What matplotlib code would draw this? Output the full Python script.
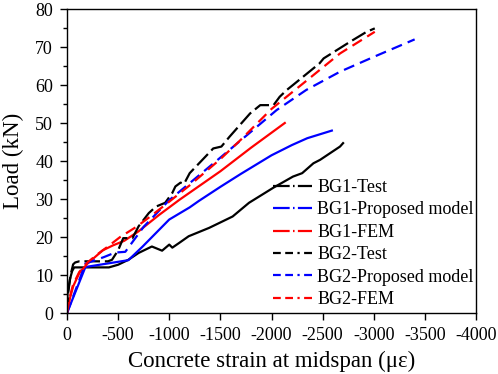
import matplotlib
matplotlib.use("Agg")
import matplotlib.pyplot as plt
from matplotlib.lines import Line2D
from matplotlib.ticker import MultipleLocator

plt.rcParams['font.family'] = ['Liberation Serif', 'DejaVu Serif']

# ---- data (strain in microstrain, load in kN) ----
bg1_test_x = [0, -5, -30, -50, -70, -200, -410, -500, -600, -700, -830, -930, -1000, -1030,
              -1095, -1190, -1390, -1490, -1620, -1780, -2020, -2210, -2300, -2410, -2475,
              -2670, -2700]
bg1_test_y = [0, 5, 9, 11, 12, 12, 12, 12.7, 14, 15.8, 17.5, 16.4, 18, 17.2,
              18.4, 20.2, 22.4, 23.7, 25.4, 29, 33, 35.9, 36.8, 39.4, 40.3,
              43.8, 44.7]

bg1_prop_x = [0, -180, -600, -740, -1000, -1200, -1290, -1500, -1700, -2000, -2200, -2350, -2590]
bg1_prop_y = [0, 12.1, 13.9, 17.5, 24.6, 27.8, 29.5, 33.2, 36.6, 41.5, 44.2, 46.0, 48.0]

bg1_fem_x = [0, -30, -60, -120, -200, -350, -450, -560, -700, -900, -1100, -1500, -1800, -2130]
bg1_fem_y = [0, 4, 7, 10.5, 13, 16.5, 17.8, 19, 21.5, 25.8, 29.8, 37.3, 43.5, 50]

bg2_test_x = [0, -10, -35, -60, -80, -120, -400, -440, -500, -550, -640, -700, -800, -870,
              -960, -1030, -1060, -1110, -1145, -1200, -1430, -1510, -1590, -1790, -1890,
              -2020, -2080, -2150, -2210, -2470, -2510, -2770, -2930, -3010]
bg2_test_y = [0, 5, 10, 12.8, 13.3, 13.6, 13.6, 14, 16.5, 19.7, 19.7, 22.8, 26.3, 28,
              29, 31.6, 33.3, 34.3, 34, 36.8, 43.3, 43.8, 46.4, 52.5, 54.7,
              54.7, 56.9, 58.7, 60, 65.7, 67, 71.4, 74, 74.9]

bg2_prop_x = [0, -180, -360, -470, -570, -750, -1000, -1500, -2050, -2340, -2670, -3000, -3400]
bg2_prop_y = [0, 13, 14.7, 15.9, 16.1, 22.7, 29.7, 40.9, 53.4, 58.7, 63.5, 67.4, 72]

bg2_fem_x = [0, -30, -60, -120, -200, -300, -400, -520, -680, -810, -1000, -1200, -1500,
             -1700, -2000, -2350, -2670, -3010]
bg2_fem_y = [0, 4.5, 7.5, 10.8, 13.3, 15.5, 17.5, 20, 22.7, 25.3, 29.3, 33.6, 40.5,
             45.6, 53.7, 61.3, 68.3, 74]

labels = ["BG1-Test", "BG1-Proposed model", "BG1-FEM",
          "BG2-Test", "BG2-Proposed model", "BG2-FEM"]
xticks = [0, -500, -1000, -1500, -2000, -2500, -3000, -3500, -4000]
xticklabels = ["0", "-500", "-1000", "-1500", "-2000", "-2500", "-3000", "-3500", "-4000"]
yticks = [0, 10, 20, 30, 40, 50, 60, 70, 80]

# ---- figure ----
W, H = 498, 374
fig = plt.figure(figsize=(W / 100, H / 100), dpi=100)
ax = fig.add_axes([67 / W, 1 - 313 / H, (476 - 67) / W, (313 - 9) / H])

lw = 1.6
ax.plot(bg1_test_x, bg1_test_y, color='black', lw=lw)
ax.plot(bg1_prop_x, bg1_prop_y, color='blue', lw=lw)
ax.plot(bg1_fem_x, bg1_fem_y, color='red', lw=lw)
ax.plot(bg2_test_x, bg2_test_y, color='black', lw=lw, dashes=(7, 2.2))
ax.plot(bg2_prop_x, bg2_prop_y, color='blue', lw=lw, dashes=(5, 2.8))
ax.plot(bg2_fem_x, bg2_fem_y, color='red', lw=lw, dashes=(5, 2.8))

ax.set_xlim(0, -4000)
ax.set_ylim(0, 80)
ax.set_xticks(xticks, xticklabels)
ax.set_yticks(yticks, [str(v) for v in yticks])
ax.yaxis.set_minor_locator(MultipleLocator(5))
ax.tick_params(axis='both', which='both', direction='out', labelsize=13, width=1.0,
               top=False, right=False)
ax.tick_params(axis='x', which='major', length=5, pad=5)
ax.tick_params(axis='y', which='major', length=5, pad=5)
ax.tick_params(axis='y', which='minor', length=3)
for s in ax.spines.values():
    s.set_linewidth(1.0)

ax.set_xlabel("Concrete strain at midspan (\u03bc\u03b5)", fontsize=16.5, labelpad=5)
ax.set_ylabel("Load (kN)", fontsize=16.5, labelpad=8)

d1 = (7.5, 1.5, 0.7, 1.5, 7.5, 20)
d2 = (3.5, 2, 3.5, 2, 1, 2, 4.7, 20)
handles = [
    Line2D([], [], color='black', lw=lw, dashes=d1),
    Line2D([], [], color='blue', lw=lw, dashes=d1),
    Line2D([], [], color='red', lw=lw, dashes=d1),
    Line2D([], [], color='black', lw=lw, dashes=d2),
    Line2D([], [], color='blue', lw=lw, dashes=d2),
    Line2D([], [], color='red', lw=lw, dashes=d2),
]
ax.legend(handles, labels, loc='upper left', bbox_to_anchor=((273 - 67) / 409, 1 - (179 - 9) / 304),
          frameon=False, fontsize=13, handlelength=2.17, handletextpad=0.28,
          labelspacing=0.3, borderpad=0, borderaxespad=0)

fig.savefig("out.png", dpi=100)
